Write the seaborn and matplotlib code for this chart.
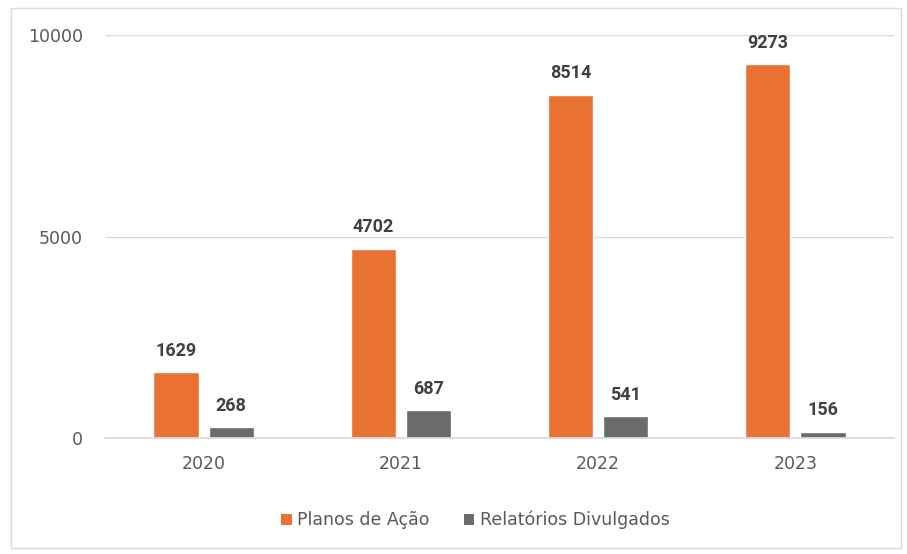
import matplotlib
matplotlib.use("Agg")
import matplotlib.pyplot as plt
import seaborn as sns
import pandas as pd
from matplotlib.patches import Rectangle, Patch

years = ["2020", "2021", "2022", "2023"]
planos = [1629, 4702, 8514, 9273]
relatorios = [268, 687, 541, 156]
series_names = ["Planos de Ação", "Relatórios Divulgados"]
colors = ["#E97132", "#6B6B6B"]
yticks = [0, 5000, 10000]

df = pd.DataFrame({
    "Ano": years * 2,
    "Valor": planos + relatorios,
    "Serie": [series_names[0]] * 4 + [series_names[1]] * 4,
})

sns.set_theme(style="white")
plt.rcParams["font.family"] = ["DejaVu Sans"]

fig = plt.figure(figsize=(9.07, 5.54), dpi=100)
ax = fig.add_axes([105 / 907, 1 - 438 / 554, (894 - 105) / 907, (438 - 35) / 554])

sns.barplot(data=df, x="Ano", y="Valor", hue="Serie", palette=colors,
            width=0.56, gap=0.18, ax=ax, legend=False, saturation=1)

ax.set_ylim(0, 10000)
ax.set_yticks(yticks)
ax.set_yticklabels([str(v) for v in yticks])
ax.set_xlabel("")
ax.set_ylabel("")
ax.grid(axis="y", color="#D9D9D9", linewidth=1)
ax.set_axisbelow(True)
for s in ["top", "right", "left"]:
    ax.spines[s].set_visible(False)
ax.spines["bottom"].set_color("#D9D9D9")
ax.tick_params(axis="both", length=0, labelsize=12.5, colors="#595959")
ax.tick_params(axis="y", pad=16)
ax.tick_params(axis="x", pad=12)

for cont in ax.containers:
    ax.bar_label(cont, fmt="%d", padding=9, fontsize=13, fontweight="bold",
                 color="#404040", clip_on=False, family=["Roboto", "DejaVu Sans"])

handles = [Patch(facecolor=c, edgecolor="none") for c in colors]
fig.legend(handles, series_names, loc="center", bbox_to_anchor=(0.524, 0.061),
           ncol=2, frameon=False, fontsize=12.5, labelcolor="#595959",
           handlelength=0.6, handleheight=0.6, handletextpad=0.3, columnspacing=2.0)

fig.patches.append(Rectangle((11 / 907, 6 / 554), 1 - 17 / 907, 1 - 14 / 554,
                             transform=fig.transFigure, fill=False,
                             edgecolor="#D9D9D9", linewidth=1))

fig.savefig("out.png", dpi=100, facecolor="white")
